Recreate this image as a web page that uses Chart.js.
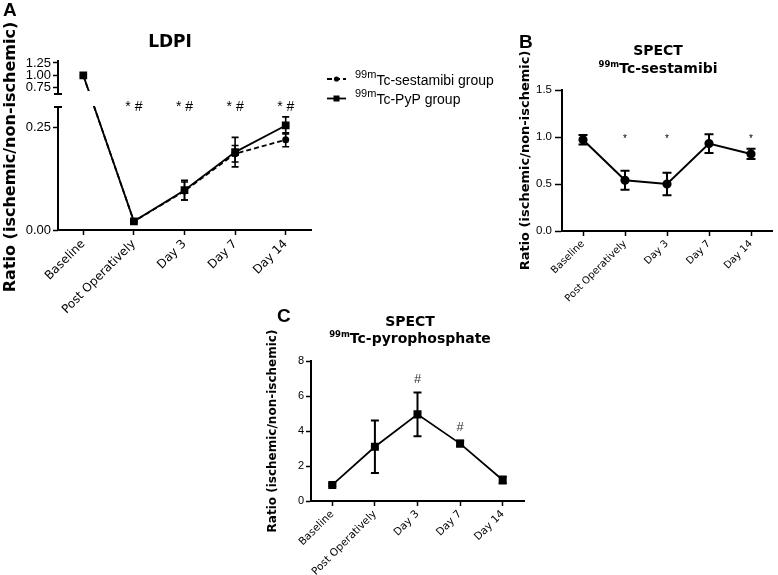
<!DOCTYPE html>
<html>
<head>
<meta charset="utf-8">
<script src="https://cdn.jsdelivr.net/npm/chart.js@4.4.0/dist/chart.umd.min.js"></script>
<style>
  body { margin: 0; background: #fff; }
  #wrap { position: relative; width: 778px; height: 575px; overflow: hidden; }
  canvas { position: absolute; }
</style>
</head>
<body>
<div id="wrap">
  <canvas id="chartA" width="510" height="335" style="left:0px;top:0px"></canvas>
  <canvas id="chartB" width="308" height="275" style="left:470px;top:30px"></canvas>
  <canvas id="chartC" width="360" height="280" style="left:180px;top:295px"></canvas>
</div>
<script>
const categories = ['Baseline', 'Post Operatively', 'Day 3', 'Day 7', 'Day 14'];

// A: LDPI
const ldpiSestamibi = [1.0, 0.021, 0.095, 0.186, 0.220];
const ldpiSestamibiErr = [0, 0.003, 0.022, 0.02, 0.017];
const ldpiPyp = [1.0, 0.021, 0.097, 0.190, 0.255];
const ldpiPypErr = [0, 0.003, 0.024, 0.036, 0.021];
const ldpiMarks = ['', '* #', '* #', '* #', '* #'];
const ldpiTicks = [0, 0.25, 0.75, 1.0, 1.25];

// B: SPECT 99mTc-sestamibi
const sestamibiRatio = [0.97, 0.54, 0.50, 0.93, 0.82];
const sestamibiErr = [0.05, 0.10, 0.12, 0.10, 0.055];
const sestamibiMarks = ['', '*', '*', '', '*'];

// C: SPECT 99mTc-pyrophosphate
const pypRatio = [0.92, 3.1, 4.95, 3.28, 1.2];
const pypErr = [0.08, 1.5, 1.25, 0.17, 0.2];
const pypMarks = ['', '', '#', '#', ''];

const SANS = 'Liberation Sans, Arial, sans-serif';
const VERD = 'DejaVu Sans, Verdana, sans-serif';
const YTITLE = 'Ratio (ischemic/non-ischemic)';
Chart.defaults.color = '#000';
Chart.defaults.font.family = SANS;

// broken y axis for LDPI: lower part 0..lowMax, upper part highMin..max
const brk = { lowMax: 0.30, highMin: 0.625, max: 1.31, lowFrac: 0.7235, highFrac: 0.8 };

class BrokenScale extends Chart.LinearScale {
  getPixelForValue(v) {
    const h = this.bottom - this.top;
    let f;
    if (v <= brk.lowMax) f = v / brk.lowMax * brk.lowFrac;
    else if (v >= brk.highMin) f = brk.highFrac + (v - brk.highMin) / (brk.max - brk.highMin) * (1 - brk.highFrac);
    else f = brk.lowFrac + (v - brk.lowMax) / (brk.highMin - brk.lowMax) * (brk.highFrac - brk.lowFrac);
    return this.bottom - f * h;
  }
}
BrokenScale.id = 'broken';
Chart.register(BrokenScale);

function xScale(size, height) {
  return {
    type: 'category', offset: true,
    grid: { drawOnChartArea: false, drawTicks: true, tickLength: 5, color: '#000', tickWidth: 1.5, offset: false },
    border: { display: true, color: '#000', width: 2 },
    ticks: { color: '#000', font: { family: VERD, size: size }, minRotation: 45, maxRotation: 45, autoSkip: false, padding: 2 },
    afterFit: s => { s.height = height; }
  };
}

function yScale(o) {
  return Object.assign({
    grid: { drawOnChartArea: false, drawTicks: true, tickLength: o.tickLength, color: '#000', tickWidth: 1.5 },
    border: { display: true, color: '#000', width: 2 },
    title: { display: o.titleSize > 0, text: YTITLE, padding: 0, color: '#000', font: { family: VERD, weight: 'bold', size: o.titleSize || 12 } },
    afterFit: s => { s.width = o.width; }
  }, o.extra);
}

function drawErrorBars(chart, values, errs, cap, lw) {
  const x = chart.scales.x, y = chart.scales.y, ctx = chart.ctx;
  ctx.save();
  ctx.strokeStyle = '#000';
  ctx.lineWidth = lw;
  values.forEach((v, i) => {
    const e = errs[i];
    if (!e) return;
    const px = x.getPixelForValue(i);
    const top = y.getPixelForValue(v + e), bot = y.getPixelForValue(v - e);
    ctx.beginPath();
    ctx.moveTo(px, top); ctx.lineTo(px, bot);
    ctx.moveTo(px - cap, top); ctx.lineTo(px + cap, top);
    ctx.moveTo(px - cap, bot); ctx.lineTo(px + cap, bot);
    ctx.stroke();
  });
  ctx.restore();
}

function supText(ctx, sup, main, x, y, supFont, mainFont, raise, center) {
  ctx.font = supFont;
  const w1 = ctx.measureText(sup).width;
  ctx.font = mainFont;
  const w2 = ctx.measureText(main).width;
  const x0 = center ? x - (w1 + w2) / 2 : x;
  ctx.textAlign = 'left';
  ctx.textBaseline = 'alphabetic';
  ctx.font = supFont;
  ctx.fillText(sup, x0, y - raise);
  ctx.font = mainFont;
  ctx.fillText(main, x0 + w1, y);
}

function letter(ctx, t, x, y) {
  ctx.font = 'bold 19px ' + SANS;
  ctx.textAlign = 'left';
  ctx.textBaseline = 'alphabetic';
  ctx.fillStyle = '#000';
  ctx.fillText(t, x, y);
}

const baseOpts = {
  responsive: false,
  animation: false,
  events: [],
  plugins: { legend: { display: false }, tooltip: { enabled: false } }
};

// ---------- Panel A ----------
new Chart(document.getElementById('chartA'), {
  type: 'line',
  data: {
    labels: categories,
    datasets: [
      { label: 'Tc-sestamibi group', data: ldpiSestamibi, borderColor: '#000', backgroundColor: '#000',
        borderWidth: 1.8, borderDash: [5, 3], pointStyle: 'circle', pointRadius: 2.6, order: 1 },
      { label: 'Tc-PyP group', data: ldpiPyp, borderColor: '#000', backgroundColor: '#000',
        borderWidth: 1.8, pointStyle: 'rect', pointRadius: 4.2, order: 0 }
    ]
  },
  options: Object.assign({}, baseOpts, {
    layout: { padding: { left: 0, top: 60, right: 199, bottom: 0 } },
    scales: {
      x: xScale(12, 105),
      y: yScale({ width: 58, tickLength: 5, titleSize: 0, extra: {
        type: 'broken', min: 0, max: brk.max,
        border: { display: false },
        afterBuildTicks: s => { s.ticks = ldpiTicks.map(v => ({ value: v })); },
        ticks: { autoSkip: false, padding: 2, color: '#000', font: { family: SANS, size: 13 }, callback: v => v.toFixed(2) }
      } })
    }
  }),
  plugins: [{
    id: 'ldpiExtras',
    afterDatasetsDraw(chart) {
      const ctx = chart.ctx, x = chart.scales.x, y = chart.scales.y, a = chart.chartArea;
      const gapTop = y.getPixelForValue(brk.highMin), gapBot = y.getPixelForValue(brk.lowMax);
      // break in the data line
      ctx.save();
      ctx.fillStyle = '#fff';
      ctx.fillRect(a.left + 2, gapTop - 3, x.getPixelForValue(1) - a.left - 14, gapBot - gapTop + 2);
      ctx.restore();
      drawErrorBars(chart, ldpiSestamibi, ldpiSestamibiErr, 3.5, 1.6);
      drawErrorBars(chart, ldpiPyp, ldpiPypErr, 3.5, 1.6);
      // broken y axis
      ctx.save();
      ctx.strokeStyle = '#000';
      ctx.lineWidth = 2;
      ctx.beginPath();
      ctx.moveTo(a.left, a.top); ctx.lineTo(a.left, gapTop);
      ctx.moveTo(a.left - 4, gapTop); ctx.lineTo(a.left + 4, gapTop);
      ctx.moveTo(a.left - 4, gapBot); ctx.lineTo(a.left + 4, gapBot);
      ctx.moveTo(a.left, gapBot); ctx.lineTo(a.left, a.bottom);
      ctx.stroke();
      // significance marks
      ctx.fillStyle = '#000';
      ctx.font = '14px ' + SANS;
      ctx.textAlign = 'center';
      ctx.textBaseline = 'alphabetic';
      ldpiMarks.forEach((m, i) => { if (m) ctx.fillText(m, x.getPixelForValue(i), a.top + 51); });
      ctx.restore();
    },
    afterDraw(chart) {
      const ctx = chart.ctx;
      ctx.save();
      letter(ctx, 'A', 3, 16);
      // y axis title (placed a little below the axis centre, as in the figure)
      ctx.save();
      ctx.translate(10.5, 157);
      ctx.rotate(-Math.PI / 2);
      ctx.font = 'bold 16px ' + VERD;
      ctx.textAlign = 'center';
      ctx.textBaseline = 'middle';
      ctx.fillText(YTITLE, 0, 0);
      ctx.restore();
      ctx.font = 'bold 17px ' + VERD;
      ctx.textAlign = 'center';
      ctx.textBaseline = 'alphabetic';
      ctx.fillText('LDPI', 170, 47);
      // legend
      ctx.strokeStyle = '#000';
      ctx.fillStyle = '#000';
      ctx.lineWidth = 1.8;
      ctx.setLineDash([5, 3]);
      ctx.beginPath(); ctx.moveTo(327, 79); ctx.lineTo(346, 79); ctx.stroke();
      ctx.setLineDash([]);
      ctx.beginPath(); ctx.arc(336.5, 79, 2.6, 0, Math.PI * 2); ctx.fill();
      ctx.beginPath(); ctx.moveTo(327, 98.5); ctx.lineTo(346, 98.5); ctx.stroke();
      ctx.fillRect(333.5, 95.5, 6, 6);
      supText(ctx, '99m', 'Tc-sestamibi group', 355, 84.5, '11px ' + SANS, '14px ' + SANS, 7, false);
      supText(ctx, '99m', 'Tc-PyP group', 355, 104, '11px ' + SANS, '14px ' + SANS, 7, false);
      ctx.restore();
    }
  }]
});

// ---------- Panel B ----------
new Chart(document.getElementById('chartB'), {
  type: 'line',
  data: {
    labels: categories,
    datasets: [
      { label: 'Tc-sestamibi', data: sestamibiRatio, borderColor: '#000', backgroundColor: '#000',
        borderWidth: 2, pointStyle: 'circle', pointRadius: 3.6 }
    ]
  },
  options: Object.assign({}, baseOpts, {
    layout: { padding: { left: 48, top: 60, right: 1, bottom: 0 } },
    scales: {
      x: xScale(10, 74),
      y: yScale({ width: 44, tickLength: 7, titleSize: 13, extra: {
        type: 'linear', min: 0, max: 1.5,
        ticks: { stepSize: 0.5, padding: 3, color: '#000', font: { family: SANS, size: 11.5 }, callback: v => v.toFixed(1) }
      } })
    }
  }),
  plugins: [{
    id: 'sestamibiExtras',
    afterDatasetsDraw(chart) {
      const ctx = chart.ctx, x = chart.scales.x, y = chart.scales.y;
      drawErrorBars(chart, sestamibiRatio, sestamibiErr, 4.5, 2);
      ctx.save();
      ctx.fillStyle = '#000';
      ctx.font = '10px ' + SANS;
      ctx.textAlign = 'center';
      ctx.textBaseline = 'alphabetic';
      sestamibiMarks.forEach((m, i) => { if (m) ctx.fillText(m, x.getPixelForValue(i), y.getPixelForValue(1.0) + 5); });
      ctx.restore();
    },
    afterDraw(chart) {
      const ctx = chart.ctx;
      ctx.save();
      letter(ctx, 'B', 49, 18);
      ctx.font = 'bold 14px ' + VERD;
      ctx.textAlign = 'center';
      ctx.textBaseline = 'alphabetic';
      ctx.fillText('SPECT', 188, 25);
      supText(ctx, '99m', 'Tc-sestamibi', 188, 43, 'bold 8.5px ' + VERD, 'bold 14px ' + VERD, 6, true);
      ctx.restore();
    }
  }]
});

// ---------- Panel C ----------
new Chart(document.getElementById('chartC'), {
  type: 'line',
  data: {
    labels: categories,
    datasets: [
      { label: 'Tc-pyrophosphate', data: pypRatio, borderColor: '#000', backgroundColor: '#000',
        borderWidth: 1.8, pointStyle: 'rect', pointRadius: 4.4 }
    ]
  },
  options: Object.assign({}, baseOpts, {
    layout: { padding: { left: 86, top: 66, right: 16, bottom: 0 } },
    scales: {
      x: xScale(10.5, 74),
      y: yScale({ width: 45, tickLength: 5, titleSize: 12, extra: {
        type: 'linear', min: 0, max: 8,
        ticks: { stepSize: 2, padding: 2, color: '#000', font: { family: SANS, size: 11 } }
      } })
    }
  }),
  plugins: [{
    id: 'pypExtras',
    afterDatasetsDraw(chart) {
      const ctx = chart.ctx, x = chart.scales.x, y = chart.scales.y;
      drawErrorBars(chart, pypRatio, pypErr, 4, 2);
      ctx.save();
      ctx.fillStyle = '#333';
      ctx.font = '13px ' + SANS;
      ctx.textAlign = 'center';
      ctx.textBaseline = 'alphabetic';
      pypMarks.forEach((m, i) => {
        if (m) ctx.fillText(m, x.getPixelForValue(i), y.getPixelForValue(pypRatio[i] + pypErr[i]) - 10);
      });
      ctx.restore();
    },
    afterDraw(chart) {
      const ctx = chart.ctx;
      ctx.save();
      letter(ctx, 'C', 97, 27);
      ctx.font = 'bold 14px ' + VERD;
      ctx.textAlign = 'center';
      ctx.textBaseline = 'alphabetic';
      ctx.fillText('SPECT', 230, 31);
      supText(ctx, '99m', 'Tc-pyrophosphate', 230, 48, 'bold 8.5px ' + VERD, 'bold 14px ' + VERD, 6, true);
      ctx.restore();
    }
  }]
});
</script>
</body>
</html>
